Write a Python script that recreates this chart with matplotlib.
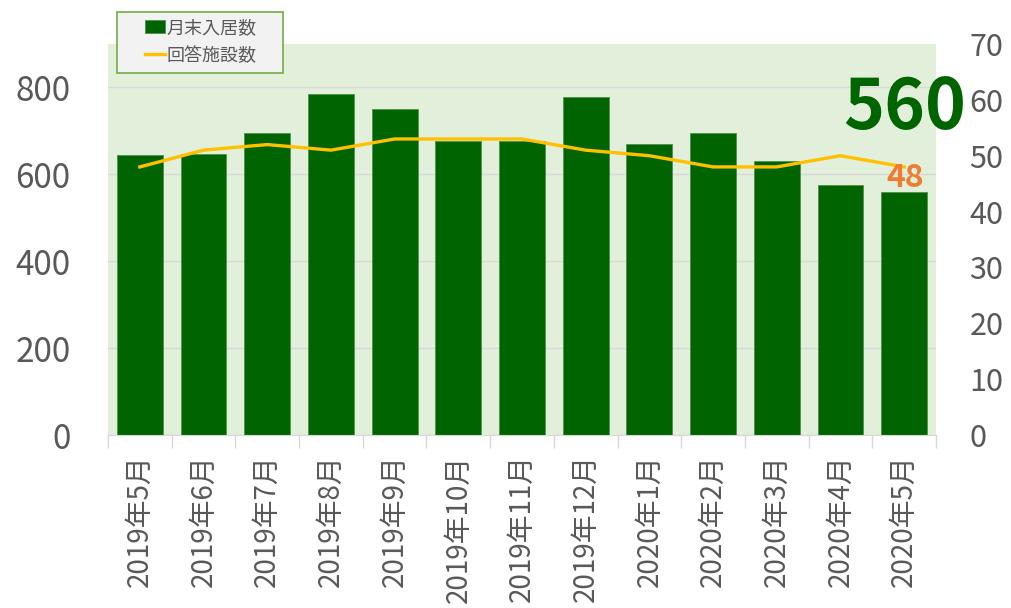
import matplotlib
matplotlib.use('Agg')
import matplotlib.pyplot as plt
from matplotlib.ticker import FixedLocator
from matplotlib.patches import Rectangle
import numpy as np

plt.rcParams['font.family'] = ['Noto Sans CJK JP', 'DejaVu Sans']

# ---------------- DATOS ----------------
meses = ['2019年5月', '2019年6月', '2019年7月', '2019年8月', '2019年9月',
         '2019年10月', '2019年11月', '2019年12月', '2020年1月', '2020年2月',
         '2020年3月', '2020年4月', '2020年5月']
nyukyo = [645, 648, 695, 785, 750, 677, 677, 778, 670, 695, 630, 575, 560]
shisetsu = [48, 51, 52, 51, 53, 53, 53, 51, 50, 48, 48, 50, 48]

verde = '#006400'
amarillo = '#FFC000'
naranja = '#ED7D31'
gris = '#595959'

fig = plt.figure(figsize=(10.11, 6.08), dpi=100)
ax = fig.add_axes([0.1068, 0.2845, 0.8190, 0.6431])
ax2 = ax.twinx()

x = np.arange(len(meses))
ax.set_facecolor('#E2EFDA')
ax.bar(x, nyukyo, width=0.72, color=verde, edgecolor='#4f8f4f', linewidth=0.6,
       label='月末入居数', zorder=3)
ax2.plot(x, shisetsu, color=amarillo, linewidth=2.4, label='回答施設数',
         solid_joinstyle='round', zorder=4)

# ---------------- EJES ----------------
ax.set_xlim(-0.5, len(meses) - 0.5)
ax.set_ylim(0, 900)
ax2.set_ylim(0, 70)
ax.set_yticks([0, 200, 400, 600, 800])
ax2.set_yticks(range(0, 71, 10))
ax.grid(axis='y', color='#D9D9D9', linewidth=1, zorder=0)
ax.set_axisbelow(True)

ax.set_xticks(x)
ax.set_xticklabels(meses, rotation=90, fontsize=20, color=gris)
ax.xaxis.set_minor_locator(FixedLocator(np.arange(-0.5, len(meses), 1)))
ax.tick_params(axis='x', which='major', length=0, pad=14)
ax.tick_params(axis='x', which='minor', length=9, color='#D9D9D9', width=1)
ax.tick_params(axis='y', length=0, pad=27, labelsize=24, labelcolor=gris)
ax2.tick_params(axis='y', length=0, pad=24, labelsize=22, labelcolor=gris)

for a in (ax, ax2):
    for s in ('top', 'left', 'right'):
        a.spines[s].set_visible(False)
    a.spines['bottom'].set_color('#D9D9D9')

# ---------------- ANOTACIONES ----------------
ax.annotate(f'{nyukyo[-1]}', xy=(x[-1], nyukyo[-1]), xytext=(0, 60),
            textcoords='offset points', ha='center', va='center',
            fontsize=50, fontweight='bold', color=verde, zorder=6)
ax2.annotate(f'{shisetsu[-1]}', xy=(x[-1], shisetsu[-1]), xytext=(1, -8),
             textcoords='offset points', ha='center', va='center',
             fontsize=23, fontweight='bold', color=naranja, zorder=6)

# ---------------- LEYENDA ----------------
caja = Rectangle((0.1157, 0.8799), 0.1642, 0.1003, transform=fig.transFigure,
                 facecolor='#F2F2F2', edgecolor='#70AD47', linewidth=1.2,
                 zorder=5)
fig.patches.append(caja)
h1, l1 = ax.get_legend_handles_labels()
h2, l2 = ax2.get_legend_handles_labels()
leg = fig.legend(h1 + h2, l1 + l2, loc='upper left',
                 bbox_to_anchor=(0.1434, 0.969), fontsize=13,
                 frameon=False, handlelength=1.1, handleheight=0.7,
                 handletextpad=0.1, labelspacing=0.55, borderpad=0,
                 borderaxespad=0, labelcolor=gris)
leg.set_zorder(6)

fig.savefig('out.png', dpi=100)
